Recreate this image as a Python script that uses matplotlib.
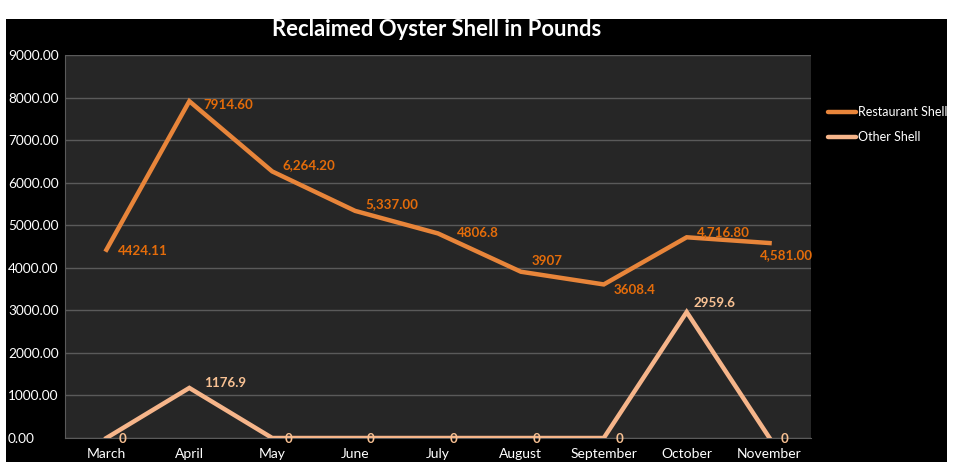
import matplotlib
matplotlib.use("Agg")
import matplotlib.pyplot as plt
from matplotlib.patches import Rectangle
from matplotlib.lines import Line2D

months = ["March", "April", "May", "June", "July", "August", "September", "October", "November"]
restaurant = [4424.11, 7914.60, 6264.20, 5337.00, 4806.8, 3907, 3608.4, 4716.80, 4581.00]
restaurant_labels = ["4424.11", "7914.60", "6,264.20", "5,337.00", "4806.8", "3907", "3608.4", "4,716.80", "4,581.00"]
other = [0, 1176.9, 0, 0, 0, 0, 0, 2959.6, 0]
other_labels = ["0", "1176.9", "0", "0", "0", "0", "0", "2959.6", "0"]
yticks = [0, 1000, 2000, 3000, 4000, 5000, 6000, 7000, 8000, 9000]
ytick_labels = ["0.00", "1000.00", "2000.00", "3000.00", "4000.00", "5000.00", "6000.00", "7000.00", "8000.00", "9000.00"]

# label offsets in pixels (dx right, dy down)
rest_off = [(12, 1), (14, 4), (10, -6), (10, -7), (19, 0), (11, -11), (10, 6), (10, -5), (-10, 12)]
oth_off = [(12, 1), (15, -5), (12, 1), (12, 1), (12, 1), (12, 1), (12, 1), (7, -9), (11, 1)]

FONT = "Lato"
c_rest = "#E8853A"
c_rest_lab = "#E46C0A"
c_oth = "#F6B58A"
c_oth_lab = "#F8C193"

W, H = 961, 472
fig = plt.figure(figsize=(W / 100, H / 100), dpi=100)
fig.patch.set_facecolor("white")
fig.patches.append(Rectangle((6 / W, 1 - 462 / H), (947 - 6) / W, (462 - 19) / H,
                             transform=fig.transFigure, facecolor="black", edgecolor="none", zorder=-10))

ax = fig.add_axes([65 / W, 1 - 438 / H, (811 - 65) / W, (438 - 55) / H])
ax.set_facecolor("#262626")
x = list(range(len(months)))
ax.plot(x, restaurant, color=c_rest, lw=3.2, solid_joinstyle="miter", zorder=3)
ax.plot(x, other, color=c_oth, lw=3.2, solid_joinstyle="miter", zorder=3)
ax.set_xlim(-0.5, len(months) - 0.5)
ax.set_ylim(0, 9000)
ax.set_yticks(yticks)
ax.set_yticklabels(ytick_labels)
ax.set_xticks(x)
ax.set_xticklabels(months)
ax.grid(axis="y", color="#5a5a5a", lw=1)
ax.set_axisbelow(True)
for s in ["top", "right"]:
    ax.spines[s].set_visible(False)
for s in ["left", "bottom"]:
    ax.spines[s].set_color("#5a5a5a")
ax.tick_params(length=0)
ax.tick_params(axis="y", pad=41, labelcolor="white", labelsize=9.8)
ax.tick_params(axis="x", pad=7, labelcolor="white", labelsize=10)
for lab in ax.get_yticklabels():
    lab.set_horizontalalignment("left")
    lab.set_fontfamily(FONT)
for lab in ax.get_xticklabels():
    lab.set_fontfamily(FONT)

for i, (v, t) in enumerate(zip(restaurant, restaurant_labels)):
    dx, dy = rest_off[i]
    ax.annotate(t, (i, v), xytext=(dx, -dy), textcoords="offset pixels", ha="left", va="center",
                color=c_rest_lab, fontsize=9.6, fontweight="bold", family=FONT, zorder=4)
for i, (v, t) in enumerate(zip(other, other_labels)):
    dx, dy = oth_off[i]
    ax.annotate(t, (i, v), xytext=(dx, -dy), textcoords="offset pixels", ha="left", va="center",
                color=c_oth_lab, fontsize=9.6, fontweight="bold", family=FONT, zorder=4,
                annotation_clip=False)

fig.text(437 / W, 1 - 29 / H, "Reclaimed Oyster Shell in Pounds", ha="center", va="center",
         color="white", fontsize=15.8, fontweight="bold", family=FONT)

# legend
for yy, col, name in [(112, c_rest, "Restaurant Shell"), (137, c_oth, "Other Shell")]:
    fig.lines.append(Line2D([828 / W, 856 / W], [1 - yy / H, 1 - yy / H], transform=fig.transFigure,
                            color=col, lw=3.2, solid_capstyle="round"))
    fig.text(858 / W, 1 - yy / H, name, ha="left", va="center", color="white", fontsize=9, family=FONT)

fig.savefig("out.png", dpi=100, facecolor=fig.get_facecolor())
